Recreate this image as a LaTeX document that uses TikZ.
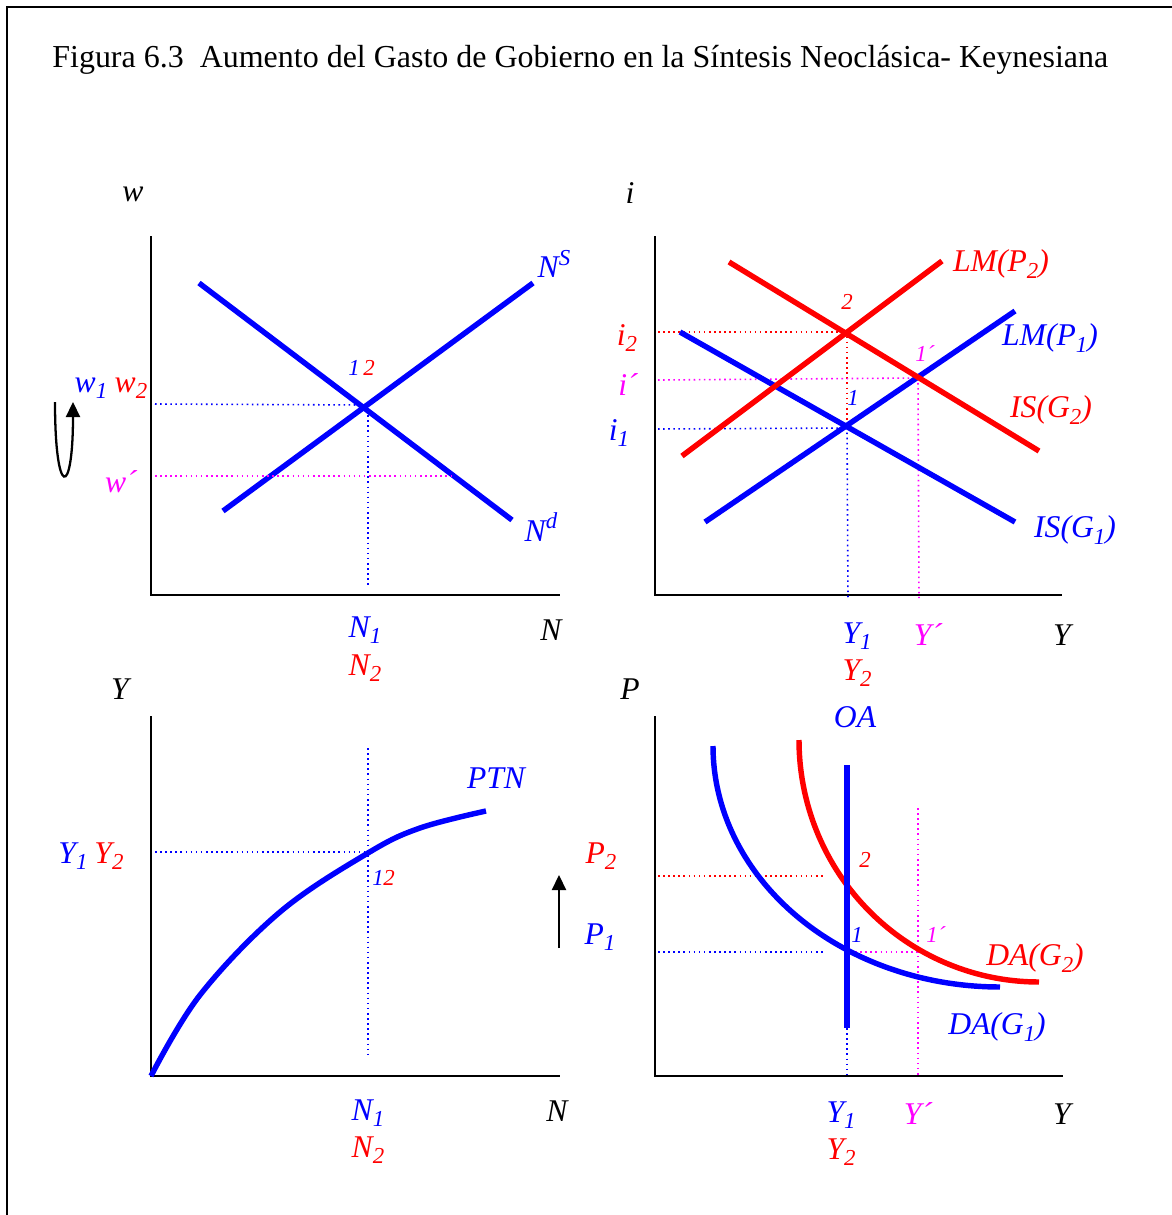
\documentclass[tikz,border=0pt]{standalone}
\usepackage{fontspec}
\setmainfont{Liberation Serif}
\usetikzlibrary{arrows.meta,calc}
\definecolor{cblue}{RGB}{0,0,255}
\definecolor{cred}{RGB}{255,0,0}
\definecolor{cmag}{RGB}{255,0,255}
\newcommand{\lo}[1]{\raisebox{-0.45ex}{\fontsize{13}{13}\selectfont #1}}
\newcommand{\hi}[1]{\raisebox{0.85ex}{\fontsize{13}{13}\selectfont #1}}
\begin{document}
\begin{tikzpicture}[x=0.02cm, y=-0.02cm, font=\fontsize{18}{18}\selectfont\itshape,
  axis/.style={line width=1.1pt},
  curve/.style={line width=3.1pt},
  guide/.style={dotted, line width=0.9pt},
  small/.style={font=\fontsize{13}{13}\selectfont\itshape},
  arr/.style={line width=1.3pt, -{Triangle[length=3mm,width=2.8mm]}}]
\useasboundingbox (0,0) rectangle (1172,1215);
\draw[line width=1.4pt] (7,1215) -- (7,7) -- (1172,7);
\node[anchor=west, inner sep=0pt, font=\fontsize{18.2}{18.2}\selectfont] (title) at (52,60)
  {Figura 6.3\ \ Aumento del Gasto de Gobierno en la Síntesis Neoclásica- Keynesiana};

% labour market
\coordinate (oa) at (151,595);
\draw[axis] (151,236) -- (oa) -- (560,595);
\node (wlbl) at (133,194) {w};
\node (nlbl) at (551,630) {N};
\coordinate (ndA) at (199,283); \coordinate (ndB) at (512,520);
\coordinate (nsA) at (223,511); \coordinate (nsB) at (533,283);
\draw[curve, cblue] (ndA) -- (ndB);
\draw[curve, cblue] (nsA) -- (nsB);
\coordinate (e12) at (365,405);
\coordinate (wp) at (454,476);
\draw[guide, cblue] (155,404) -- (e12);
\draw[guide, cblue] (368,405) -- (368,588);
\draw[guide, cmag] (155,476) -- (wp);
\node[text=cblue] (nslbl) at (554,264) {N\hi{S}};
\node[text=cblue] (ndlbl) at (541,527) {N\hi{d}};
\node[small, text=cblue] (p1a) at (354,368) {1};
\node[small, text=cred] (p2a) at (369,368) {2};
\node[text=cblue] (w1) at (91,388) {w\lo{1}};
\node[text=cred] (w2) at (131,388) {w\lo{2}};
\node[text=cmag] (wpl) at (121,482) {w´};
\coordinate (ca) at (55,402); \coordinate (cb) at (73,402);
\draw[arr] (ca) .. controls (55,499) and (73,499) .. (cb);
\node[text=cblue] (n1a) at (365,630) {N\lo{1}};
\node[text=cred] (n2a) at (365,668) {N\lo{2}};

% IS-LM
\coordinate (ob) at (655,595);
\draw[axis] (655,236) -- (ob) -- (1062,595);
\node (ilbl) at (630,193) {i};
\node (ylbl) at (1062,635) {Y};
\coordinate (is1A) at (680,332); \coordinate (is1B) at (1015,522);
\coordinate (lm1A) at (705,522); \coordinate (lm1B) at (1015,311);
\coordinate (lm2A) at (682,456); \coordinate (lm2B) at (942,261);
\coordinate (is2A) at (729,262); \coordinate (is2B) at (1039,451);
\coordinate (b1) at (847,428);
\coordinate (b2) at (847,332);
\coordinate (bp) at (918,378);
\draw[guide, cred] (658,332) -- (b2) -- (b1);
\draw[guide, cblue] (658,429) -- (b1) -- (848,598);
\draw[guide, cmag] (658,380) -- (bp) -- (919,598);
\draw[curve, cblue] (is1A) -- (is1B);
\draw[curve, cblue] (lm1A) -- (lm1B);
\draw[curve, cred] (lm2A) -- (lm2B);
\draw[curve, cred] (is2A) -- (is2B);
\node[text=cred] (lm2lbl) at (1001,264) {LM(P\lo{2})};
\node[text=cblue] (lm1lbl) at (1050,338) {LM(P\lo{1})};
\node[text=cred] (is2lbl) at (1051,410) {IS(G\lo{2})};
\node[text=cblue] (is1lbl) at (1075,530) {IS(G\lo{1})};
\node[text=cred] (i2) at (627,338) {i\lo{2}};
\node[text=cmag] (ip) at (628,385) {i´};
\node[text=cblue] (i1) at (619,433) {i\lo{1}};
\node[small, text=cred] (q2) at (847,302) {2};
\node[small, text=cmag] (qp) at (925,354) {1´};
\node[small, text=cblue] (q1) at (853,398) {1};
\node[text=cblue] (y1a) at (857,636) {Y\lo{1}};
\node[text=cmag] (ypa) at (928,635) {Y´};
\node[text=cred] (y2a) at (857,673) {Y\lo{2}};

% production function
\coordinate (oc) at (151,1076);
\draw[axis] (151,716) -- (oc) -- (560,1076);
\node (yclbl) at (120,689) {Y};
\node (nclbl) at (557,1111) {N};
\coordinate (c12) at (368,852);
\draw[guide, cblue] (155,852) -- (c12);
\draw[guide, cblue] (368,748) -- (368,1058);
\draw[curve, cblue] plot[smooth, tension=0.6] coordinates
  {(oc) (200,995) (280,912) (368,853) (420,828) (486,811)};
\node[text=cblue] (ptn) at (496,778) {PTN};
\node[text=cblue] (y1c) at (73,856) {Y\lo{1}};
\node[text=cred] (y2c) at (109,856) {Y\lo{2}};
\node[small, text=cblue] (r1) at (378,878) {1};
\node[small, text=cred] (r2) at (389,878) {2};
\node[text=cblue] (n1c) at (368,1113) {N\lo{1}};
\node[text=cred] (n2c) at (368,1150) {N\lo{2}};

% OA-DA
\coordinate (od) at (655,1076);
\draw[axis] (655,716) -- (od) -- (1063,1076);
\node (plbl) at (630,689) {P};
\node (ydlbl) at (1062,1114) {Y};
\coordinate (d1) at (847,951);
\coordinate (d2) at (847,878);
\coordinate (dp) at (918,952);
\draw[guide, cred] (658,876) -- (825,876);
\draw[guide, cblue] (658,952) -- (825,952);
\draw[guide, cmag] (918,808) -- (dp) -- (918,1076);
\draw[guide, cmag] (850,952) -- (dp);
\draw[guide, cblue] (847,1028) -- (847,1076);
\draw[curve, cblue] plot[domain=180:90, samples=60, smooth]
  ({1000+287*cos(\x)}, {746+241*sin(\x)});
\draw[curve, cred] plot[domain=180:90, samples=60, smooth]
  ({1039+240*cos(\x)}, {740+242*sin(\x)});
\draw[curve, cblue] (847,765) -- (847,1028);
\node[text=cblue] (oalbl) at (855,717) {OA};
\node[text=cred] (da2lbl) at (1035,958) {DA(G\lo{2})};
\node[text=cblue] (da1lbl) at (997,1027) {DA(G\lo{1})};
\node[small, text=cred] (s2) at (865,860) {2};
\node[small, text=cblue] (s1) at (857,935) {1};
\node[small, text=cmag] (sp) at (936,935) {1´};
\node[text=cred] (p2) at (601,856) {P\lo{2}};
\node[text=cblue] (p1) at (600,937) {P\lo{1}};
\coordinate (aa) at (559,948); \coordinate (ab) at (559,875);
\draw[arr] (aa) -- (ab);
\node[text=cblue] (y1d) at (841,1115) {Y\lo{1}};
\node[text=cmag] (ypd) at (918,1113) {Y´};
\node[text=cred] (y2d) at (841,1152) {Y\lo{2}};
\end{tikzpicture}
\end{document}
